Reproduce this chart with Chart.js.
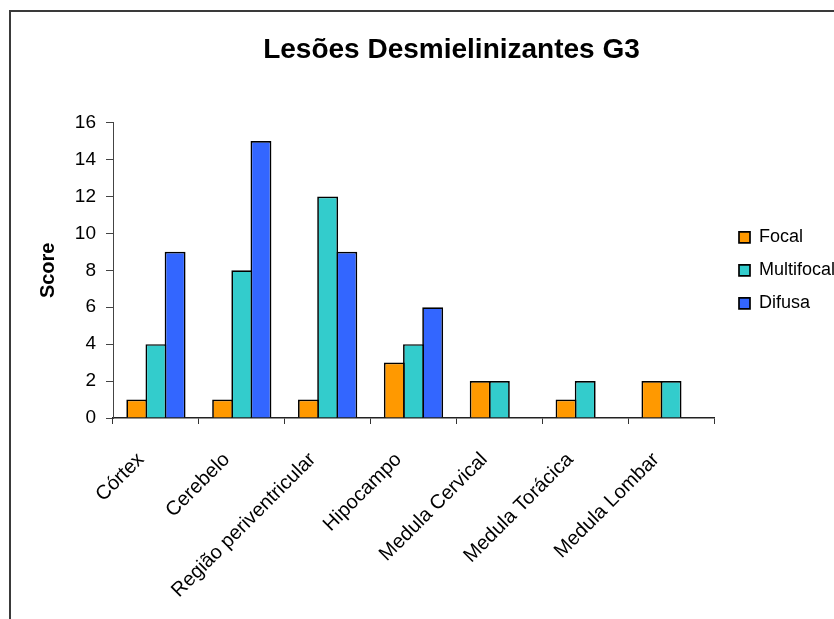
<!DOCTYPE html>
<html>
<head>
<meta charset="utf-8">
<script src="https://cdn.jsdelivr.net/npm/chart.js@4"></script>
<style>
  html, body { margin: 0; padding: 0; background: #fff; overflow: hidden; }
  #wrap { position: relative; width: 834px; height: 619px; overflow: hidden; }
  #frame {
    position: absolute; left: 9px; top: 10px; width: 1000px; height: 1000px;
    border-left: 2px solid #3a3a3a; border-top: 2px solid #3a3a3a;
    pointer-events: none;
  }
  canvas { position: absolute; left: 0; top: 0; }
</style>
</head>
<body>
<div id="wrap">
  <canvas id="chart" width="903" height="619"></canvas>
  <div id="frame"></div>
</div>
<script>
const categories = [
  "Córtex",
  "Cerebelo",
  "Região periventricular",
  "Hipocampo",
  "Medula Cervical",
  "Medula Torácica",
  "Medula Lombar",
];
const focal = [1, 1, 1, 3, 2, 1, 2];
const multifocal = [4, 8, 12, 4, 2, 2, 2];
const difusa = [9, 15, 9, 6, null, null, null];

const FONT = "'Liberation Sans', Arial, sans-serif";

const series = [
  { label: "Focal", data: focal, color: "#FF9900" },
  { label: "Multifocal", data: multifocal, color: "#33CCCC" },
  { label: "Difusa", data: difusa, color: "#3366FF" },
];

// invisible right-hand axis used only to reserve horizontal space
const spacer = (width, weight) => ({
  type: "linear",
  position: "right",
  display: true,
  weight: weight,
  grid: { display: false },
  border: { display: false },
  ticks: { display: false },
  afterFit: (scale) => {
    scale.width = width;
  },
});

new Chart(document.getElementById("chart"), {
  type: "bar",
  data: {
    labels: categories,
    datasets: series.map((s) => ({
      label: s.label,
      data: s.data,
      backgroundColor: s.color,
      borderColor: "#000",
      borderWidth: 1.7,
      categoryPercentage: 0.67,
      barPercentage: 1.09,
    })),
  },
  options: {
    responsive: false,
    animation: false,
    layout: { padding: 0 },
    plugins: {
      tooltip: { enabled: false },
      title: {
        display: true,
        text: "Lesões Desmielinizantes G3",
        color: "#000",
        font: { family: FONT, size: 28, weight: "bold" },
        padding: { top: 33, bottom: 56 },
      },
      legend: {
        position: "right",
        fullSize: false,
        maxWidth: 110,
        labels: {
          color: "#000",
          font: { family: FONT, size: 18 },
          boxWidth: 11,
          boxHeight: 11,
          padding: 15,
        },
      },
    },
    scales: {
      x: {
        grid: {
          drawOnChartArea: false,
          drawTicks: true,
          tickLength: 6,
          color: "#333",
        },
        border: { display: true, color: "#222", width: 1.5 },
        ticks: {
          color: "#000",
          font: { family: FONT, size: 20 },
          minRotation: 45,
          maxRotation: 45,
          padding: 24,
          labelOffset: -15,
          autoSkip: false,
        },
        afterFit: (scale) => {
          scale.height = 201;
        },
      },
      y: {
        min: 0,
        max: 16,
        grid: {
          drawOnChartArea: false,
          drawTicks: true,
          tickLength: 7,
          color: "#444",
        },
        border: { display: true, color: "#444", width: 1 },
        ticks: {
          stepSize: 2,
          color: "#000",
          font: { family: FONT, size: 19 },
          padding: 10,
        },
        title: {
          display: true,
          text: "Score",
          color: "#000",
          font: { family: FONT, size: 20, weight: "bold" },
          padding: { top: 36, bottom: 0 },
        },
        afterFit: (scale) => {
          scale.width = 113;
        },
      },
      gap: spacer(10, 0),
      edge: spacer(69, 2000),
    },
  },
});
</script>
</body>
</html>
